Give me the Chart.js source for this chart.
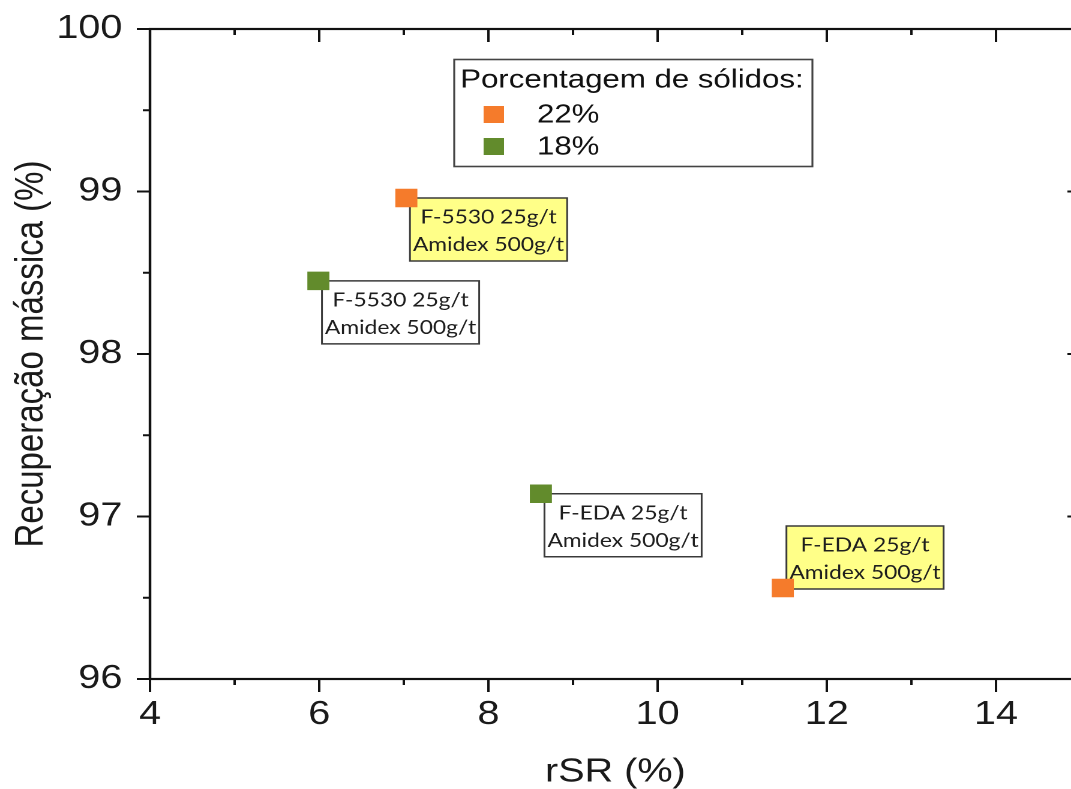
<!DOCTYPE html>
<html>
<head>
<meta charset="utf-8">
<title>Recuperação mássica x rSR</title>
<script src="https://cdn.jsdelivr.net/npm/chart.js@4.4.1/dist/chart.umd.min.js"></script>
<style>
    html, body { margin: 0; padding: 0; background: #fff; overflow: hidden; }
    /* the figure is drawn narrow and widened, as in the original export */
    #wrap { width: 920px; height: 789px; transform: scaleX(1.2); transform-origin: 0 0; }
</style>
</head>
<body>
<div id="wrap"><canvas id="grafico" width="920" height="789"></canvas></div>
<script>
// porcentagem de sólidos
var series = ['22%', '18%'];
var rsr22 = [7.03, 11.48];
var rec22 = [98.96, 96.56];
var rsr18 = [5.99, 8.62];
var rec18 = [98.45, 97.14];
var nomes22 = [['F-5530 25g/t', 'Amidex 500g/t'], ['F-EDA 25g/t', 'Amidex 500g/t']];
var nomes18 = [['F-5530 25g/t', 'Amidex 500g/t'], ['F-EDA 25g/t', 'Amidex 500g/t']];
var xTicks = [4, 6, 8, 10, 12, 14];
var yTicks = [96, 97, 98, 99, 100];

var laranja = '#f57b2b';
var verde = '#628b2c';
var fonte = "'Liberation Sans', Arial, sans-serif";

var pontos = function (xs, ys) {
    return xs.map(function (v, i) { return { x: v, y: ys[i] }; });
};

// caixas de texto ao lado de cada ponto
var rotulos = {
    id: 'rotulos',
    beforeDatasetsDraw: function (chart) {
        var ctx = chart.ctx;
        chart.data.datasets.forEach(function (ds, di) {
            var meta = chart.getDatasetMeta(di);
            meta.data.forEach(function (pt, i) {
                var w = 131, h = 63;
                var left = pt.x + 3;
                var top = ds.lados[i] === 'acima' ? pt.y + 1 - h : pt.y;
                ctx.save();
                ctx.fillStyle = ds.caixa;
                ctx.fillRect(left, top, w, h);
                ctx.strokeStyle = '#3a3a3a';
                ctx.lineWidth = 1.5;
                ctx.strokeRect(left, top, w, h);
                ctx.fillStyle = '#1e1e1e';
                ctx.font = "19px Lato, 'Noto Sans', sans-serif";
                ctx.textAlign = 'center';
                ctx.textBaseline = 'middle';
                ctx.fillText(ds.nomes[i][0], left + w / 2, top + 19.5);
                ctx.fillText(ds.nomes[i][1], left + w / 2, top + 47);
                ctx.restore();
            });
        });
    }
};

// moldura com marcas maiores e menores nos quatro lados
var moldura = {
    id: 'moldura',
    afterDraw: function (chart) {
        var ctx = chart.ctx;
        var a = chart.chartArea;
        var sx = chart.scales.x, sy = chart.scales.y;
        ctx.save();
        ctx.strokeStyle = '#111';
        ctx.lineWidth = 2.2;
        ctx.strokeRect(a.left, a.top, a.right - a.left, a.bottom - a.top);
        ctx.lineWidth = 2;
        ctx.beginPath();
        xTicks.forEach(function (v) {
            var px = sx.getPixelForValue(v);
            ctx.moveTo(px, a.bottom); ctx.lineTo(px, a.bottom + 13);
            ctx.moveTo(px, a.top); ctx.lineTo(px, a.top + 13);
            var m = sx.getPixelForValue(v + 1);
            ctx.moveTo(m, a.bottom); ctx.lineTo(m, a.bottom + 6);
            ctx.moveTo(m, a.top); ctx.lineTo(m, a.top + 6);
        });
        yTicks.forEach(function (v, i) {
            var py = sy.getPixelForValue(v);
            ctx.moveTo(a.left, py); ctx.lineTo(a.left - 11, py);
            ctx.moveTo(a.right, py); ctx.lineTo(a.right - 11, py);
            if (i < yTicks.length - 1) {
                var m = sy.getPixelForValue(v + 0.5);
                ctx.moveTo(a.left, m); ctx.lineTo(a.left - 6, m);
                ctx.moveTo(a.right, m); ctx.lineTo(a.right - 6, m);
            }
        });
        ctx.stroke();
        ctx.restore();
    }
};

// legenda em caixa com titulo
var legenda = {
    id: 'legenda',
    afterDraw: function (chart) {
        var ctx = chart.ctx;
        var x0 = 378.5, y0 = 59.5, w = 298.5, h = 107;
        ctx.save();
        ctx.fillStyle = '#fff';
        ctx.fillRect(x0, y0, w, h);
        ctx.strokeStyle = '#444';
        ctx.lineWidth = 1.6;
        ctx.strokeRect(x0, y0, w, h);
        ctx.fillStyle = '#111';
        ctx.font = '26px ' + fonte;
        ctx.textBaseline = 'middle';
        ctx.fillText('Porcentagem de sólidos:', x0 + 5, y0 + 21);
        chart.data.datasets.forEach(function (ds, i) {
            var cy = y0 + 55 + i * 32;
            ctx.fillStyle = ds.backgroundColor;
            ctx.fillRect(x0 + 24.5, cy - 8.5, 17, 17);
            ctx.fillStyle = '#111';
            ctx.fillText(ds.label, x0 + 69, cy + 1);
        });
        ctx.restore();
    }
};

new Chart(document.getElementById('grafico').getContext('2d'), {
    type: 'scatter',
    data: {
        datasets: [
            {
                label: series[0],
                data: pontos(rsr22, rec22),
                nomes: nomes22,
                lados: ['abaixo', 'acima'],
                caixa: '#ffff88',
                backgroundColor: laranja,
                borderColor: laranja,
                borderWidth: 0,
                pointStyle: 'rect',
                pointRadius: 13
            },
            {
                label: series[1],
                data: pontos(rsr18, rec18),
                nomes: nomes18,
                lados: ['abaixo', 'abaixo'],
                caixa: '#ffffff',
                backgroundColor: verde,
                borderColor: verde,
                borderWidth: 0,
                pointStyle: 'rect',
                pointRadius: 13
            }
        ]
    },
    options: {
        responsive: false,
        animation: false,
        devicePixelRatio: 2,
        layout: { padding: { left: 0, top: 29, right: 19.5, bottom: 0 } },
        plugins: {
            legend: { display: false },
            tooltip: { enabled: false }
        },
        scales: {
            x: {
                type: 'linear',
                min: 4,
                max: 15,
                grid: { display: false, drawTicks: false },
                border: { display: false },
                afterBuildTicks: function (scale) {
                    scale.ticks = xTicks.map(function (v) { return { value: v }; });
                },
                afterFit: function (scale) {
                    scale.height = 110;
                    scale.paddingLeft = 0;
                    scale.paddingRight = 0;
                },
                ticks: {
                    padding: 16,
                    color: '#1a1a1a',
                    font: { family: fonte, size: 33 }
                },
                title: {
                    display: true,
                    text: 'rSR (%)',
                    color: '#1a1a1a',
                    padding: 0,
                    font: { family: fonte, size: 33, lineHeight: 1 }
                }
            },
            y: {
                type: 'linear',
                min: 96,
                max: 100,
                grid: { display: false, drawTicks: false },
                border: { display: false },
                afterBuildTicks: function (scale) {
                    scale.ticks = yTicks.map(function (v) { return { value: v }; });
                },
                afterFit: function (scale) {
                    scale.width = 125;
                    scale.paddingTop = 0;
                    scale.paddingBottom = 0;
                },
                ticks: {
                    padding: 23,
                    color: '#1a1a1a',
                    font: { family: fonte, size: 33 }
                },
                title: {
                    display: true,
                    text: 'Recuperação mássica (%)',
                    color: '#1a1a1a',
                    padding: { top: 10, bottom: 0 },
                    font: { family: fonte, size: 33, lineHeight: 1 }
                }
            }
        }
    },
    plugins: [rotulos, moldura, legenda]
});
</script>
</body>
</html>
